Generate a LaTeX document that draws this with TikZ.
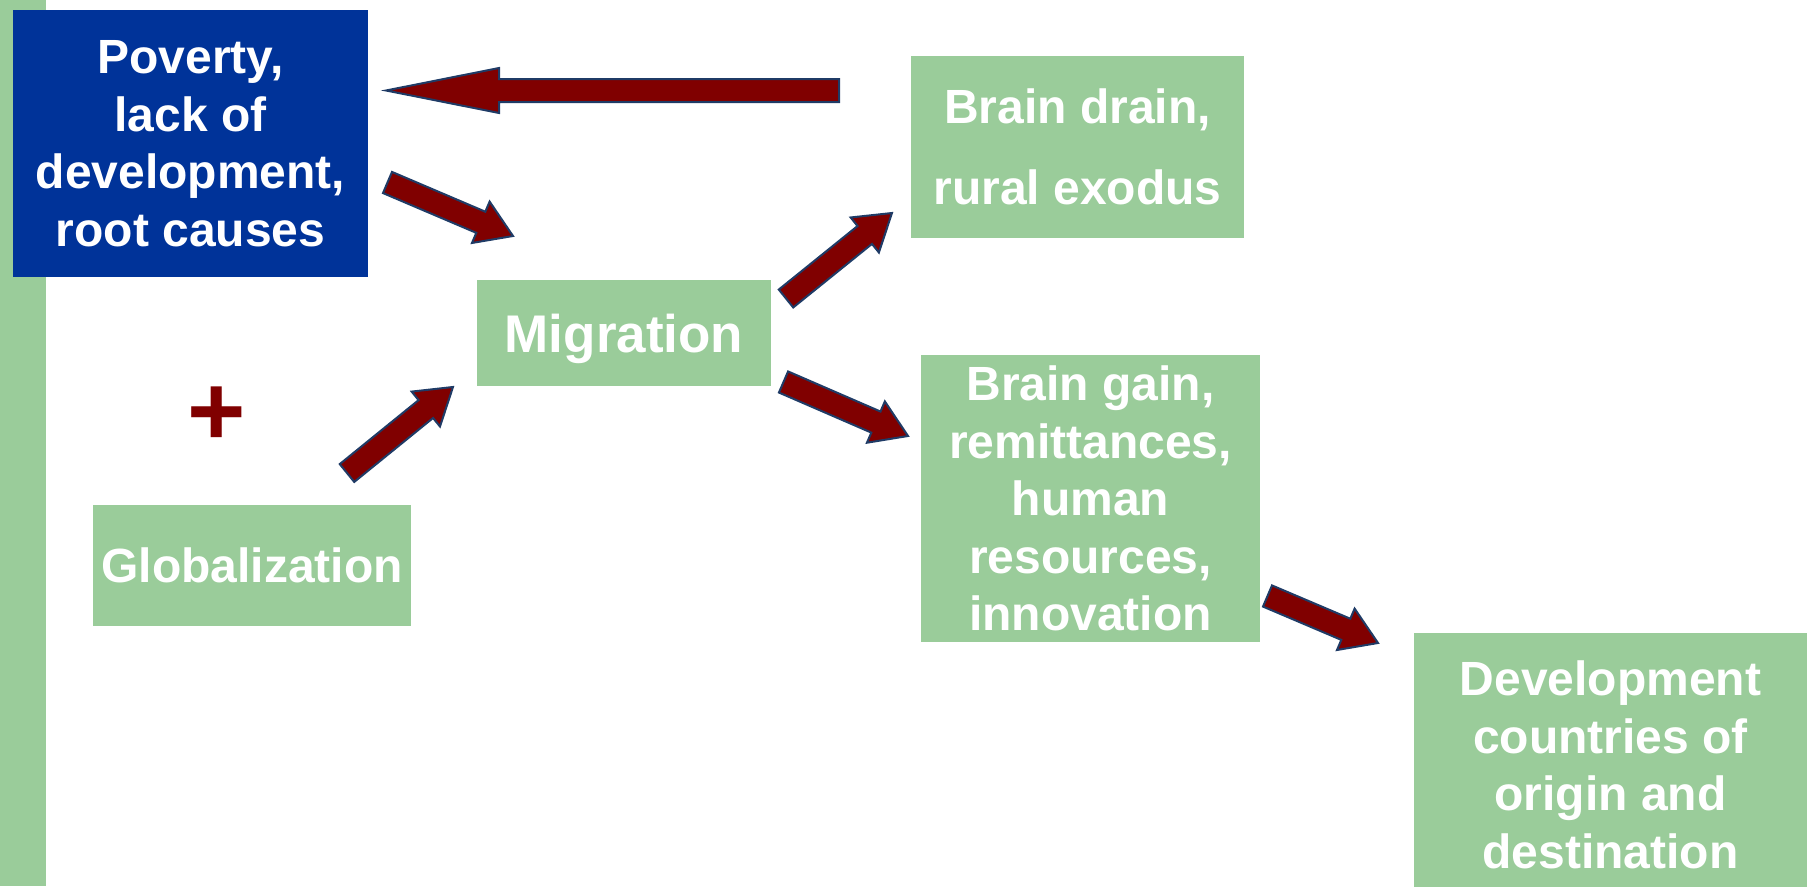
\documentclass[tikz,border=0pt]{standalone}
\usepackage{fontspec}
\setmainfont{Liberation Sans}
\usetikzlibrary{calc}
\definecolor{boxgreen}{HTML}{9ACC9A}
\definecolor{boxblue}{HTML}{003399}
\definecolor{arrred}{HTML}{800000}
\definecolor{arrline}{HTML}{1F3B66}
\newcommand\blockarrow[3]{% #1 tail, #2 tip, #3 head length
  \coordinate (#1-h) at ($(#2)!#3!(#1)$);
  \draw[barrow] ($(#1)!11.5pt!90:(#2)$) -- ($(#1-h)!11.5pt!90:(#2)$) -- ($(#1-h)!22.5pt!90:(#2)$) -- (#2)
    -- ($(#1-h)!22.5pt!-90:(#2)$) -- ($(#1-h)!11.5pt!-90:(#2)$) -- ($(#1)!11.5pt!-90:(#2)$) -- cycle;
}
\begin{document}
\begin{tikzpicture}[x=1pt,y=-1pt,
  gbox/.style={fill=boxgreen, text=white, font=\bfseries\fontsize{48}{57.5}\selectfont, align=center, inner sep=0pt},
  bluebox/.style={gbox, fill=boxblue},
  barrow/.style={fill=arrred, draw=arrline, line width=2pt, line join=miter}]
\useasboundingbox (0,0) rectangle (1809,886);
\fill[boxgreen] (0,0) rectangle (46,886);
% boxes
\node[bluebox, minimum width=355, minimum height=267] (pov) at (190.5,143.5)
  {Poverty,\\ lack of\\ development,\\ root causes};
\node[gbox, minimum width=294, minimum height=106, text depth=0pt, font=\bfseries\fontsize{53}{60}\selectfont] (mig) at (624,333) {Migration};
\node[gbox, minimum width=318, minimum height=121] (glob) at (252,565.5) {Globalization};
\node[gbox, minimum width=333, minimum height=182, font=\bfseries\fontsize{48}{81}\selectfont] (drain) at (1077.5,147) {Brain drain,\\ rural exodus};
\node[gbox, minimum width=339, minimum height=287] (gain) at (1090.5,498.5)
  {Brain gain,\\ remittances,\\ human\\ resources,\\ innovation};
\node[gbox, minimum width=393, minimum height=265] (dev) at (1610.5,765)
  {Development\\ countries of\\ origin and\\ destination};
\node[text=arrred, font=\bfseries\fontsize{100}{100}\selectfont, inner sep=0pt] (plus) at (217,416) {+};
% arrow end points
\coordinate (a1t) at (839,90.5);  \coordinate (a1h) at (386,90.5);
\coordinate (a2t) at (387.5,182.5); \coordinate (a2h) at (513,236);
\coordinate (a3t) at (347,473);   \coordinate (a3h) at (453,387);
\coordinate (a4t) at (786,298.5); \coordinate (a4h) at (892,213);
\coordinate (a5t) at (783.5,382); \coordinate (a5h) at (908,436);
\coordinate (a6t) at (1267.5,596); \coordinate (a6h) at (1378,643);
\blockarrow{a1t}{a1h}{113pt}
\blockarrow{a2t}{a2h}{35pt}
\blockarrow{a3t}{a3h}{35pt}
\blockarrow{a4t}{a4h}{35pt}
\blockarrow{a5t}{a5h}{35pt}
\blockarrow{a6t}{a6h}{35pt}
\end{tikzpicture}
\end{document}
